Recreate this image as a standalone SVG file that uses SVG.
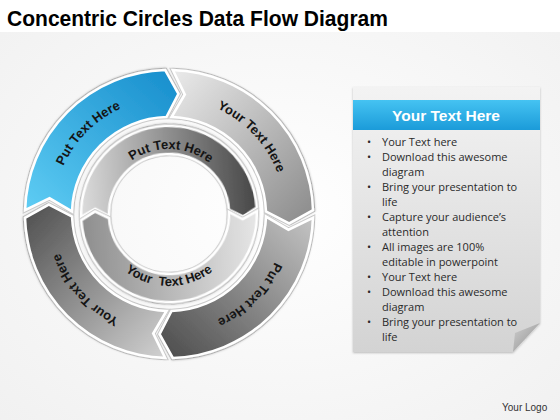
<svg xmlns="http://www.w3.org/2000/svg" xmlns:xlink="http://www.w3.org/1999/xlink" width="560" height="420" viewBox="0 0 560 420">
<style>
.seg{stroke:#ffffff;stroke-width:2.6;stroke-linejoin:miter}
.edge{fill:none;stroke:#cdcdcd;stroke-width:4.6;stroke-linejoin:miter}
.rt{font-family:"Liberation Sans",Arial,sans-serif;font-weight:bold;font-size:13px;fill:#151515}
.bl{font-family:"Open Sans","Liberation Sans",sans-serif;font-size:11px;fill:#2a2a2a}
</style>
<defs>
<radialGradient id="bg" cx="0.5" cy="0.5" r="0.75">
<stop offset="0" stop-color="#ffffff"/><stop offset="1" stop-color="#f0f0f0"/>
</radialGradient>
<linearGradient id="gBlue" x1="1" y1="0" x2="0" y2="1">
<stop offset="0" stop-color="#5fcdf4"/><stop offset="1" stop-color="#168dcc"/>
</linearGradient>
<linearGradient id="gTR" x1="1" y1="0" x2="0" y2="1">
<stop offset="0" stop-color="#ebebeb"/><stop offset="1" stop-color="#8a8a8a"/>
</linearGradient>
<linearGradient id="gBR" x1="1" y1="0" x2="0" y2="1">
<stop offset="0" stop-color="#c4c4c4"/><stop offset="1" stop-color="#4a4a4a"/>
</linearGradient>
<linearGradient id="gBL" x1="1" y1="0" x2="0" y2="1">
<stop offset="0" stop-color="#d2d2d2"/><stop offset="1" stop-color="#4e4e4e"/>
</linearGradient>
<linearGradient id="gIT" x1="1" y1="0" x2="0" y2="0">
<stop offset="0" stop-color="#dcdcdc"/><stop offset="1" stop-color="#474747"/>
</linearGradient>
<linearGradient id="gIB" x1="1" y1="0" x2="0" y2="0">
<stop offset="0" stop-color="#e6e6e6"/><stop offset="1" stop-color="#8e8e8e"/>
</linearGradient>
<linearGradient id="gPaper" x1="0" y1="0" x2="0" y2="1">
<stop offset="0" stop-color="#f3f3f3"/><stop offset="1" stop-color="#d3d3d3"/>
</linearGradient>
<linearGradient id="gHead" x1="0" y1="0" x2="0" y2="1">
<stop offset="0" stop-color="#45c3f2"/><stop offset="1" stop-color="#1b9bd9"/>
</linearGradient>
<linearGradient id="gCurl" x1="0" y1="0" x2="1" y2="1">
<stop offset="0" stop-color="#cfcfcf"/><stop offset="1" stop-color="#8f8f8f"/>
</linearGradient>
<filter id="sh" x="-20%" y="-20%" width="140%" height="140%">
<feDropShadow dx="0" dy="1" stdDeviation="1.2" flood-color="#000" flood-opacity="0.25"/>
</filter>
<path id="outerSeg" d="M 143.95 3.77 A 144 144 0 0 1 3.77 143.95 L -9.45 120.13 L 2.54 96.97 A 97 97 0 0 0 96.97 2.54 L 119.47 15.73 Z"/>
<path id="innerSeg" d="M 87.99 1.54 A 88 88 0 0 1 -87.99 1.54 L -73.72 -6.45 L -59.99 1.05 A 60 60 0 0 0 59.99 1.05 L 73.45 9.02 Z"/>
<path id="pOuter" d="M 53 214 A 116 116 0 1 1 285 214 A 116 116 0 1 1 53 214"/>
<path id="pInTop" d="M 104 214 A 65 65 0 0 1 234 214"/>
<path id="pInBot" d="M 97 214 A 72 72 0 0 0 241 214"/>
</defs>

<rect x="0" y="0" width="560" height="420" fill="url(#bg)"/>
<rect x="0" y="0" width="560" height="32" fill="#ffffff"/>

<g id="title">
<text x="7" y="26" font-family="'Liberation Sans',Arial,sans-serif" font-weight="bold" font-size="22" fill="#000" textLength="381" lengthAdjust="spacingAndGlyphs">Concentric Circles Data Flow Diagram</text>
</g>

<g id="seg-blue" transform="translate(169 214) rotate(180)">
<use href="#outerSeg" class="edge"/>
<use href="#outerSeg" class="seg" fill="url(#gBlue)" filter="url(#sh)"/>
</g>
<g id="seg-topright" transform="translate(169 214) rotate(270)">
<use href="#outerSeg" class="edge"/>
<use href="#outerSeg" class="seg" fill="url(#gTR)" filter="url(#sh)"/>
</g>
<g id="seg-bottomright" transform="translate(169 214)">
<use href="#outerSeg" class="edge"/>
<use href="#outerSeg" class="seg" fill="url(#gBR)" filter="url(#sh)"/>
</g>
<g id="seg-bottomleft" transform="translate(169 214) rotate(90)">
<use href="#outerSeg" class="edge"/>
<use href="#outerSeg" class="seg" fill="url(#gBL)" filter="url(#sh)"/>
</g>
<g id="inner-top" transform="translate(169 214) rotate(177)">
<use href="#innerSeg" class="edge"/>
<use href="#innerSeg" class="seg" fill="url(#gIT)" filter="url(#sh)"/>
</g>
<g id="inner-bottom" transform="translate(169 214) rotate(-3)">
<use href="#innerSeg" class="edge"/>
<use href="#innerSeg" class="seg" fill="url(#gIB)" filter="url(#sh)"/>
</g>
<g id="ring-labels">
<text class="rt"><textPath href="#pOuter" startOffset="12.5%" text-anchor="middle">Put Text Here</textPath></text>
<text class="rt"><textPath href="#pOuter" startOffset="38%" text-anchor="middle">Your Text Here</textPath></text>
<text class="rt"><textPath href="#pOuter" startOffset="62.5%" text-anchor="middle">Put Text Here</textPath></text>
<text class="rt"><textPath href="#pOuter" startOffset="88.3%" text-anchor="middle">Your Text Here</textPath></text>
<text class="rt"><textPath href="#pInTop" startOffset="51%" text-anchor="middle">Put Text Here</textPath></text>
<text class="rt" xml:space="preserve" style="white-space:pre"><textPath href="#pInBot" startOffset="50%" text-anchor="middle">Your  Text Here</textPath></text>
</g>
<g id="connectors"/>

<g id="panel">
<path d="M353 87 H540 V323 L513 352 H353 Z" fill="url(#gPaper)" filter="url(#sh)"/>
<path d="M540 323 L515 333 L513 352 Z" fill="url(#gCurl)"/>
<rect x="353" y="100" width="187" height="30" fill="url(#gHead)"/>
<text x="446" y="121" text-anchor="middle" font-family="'Liberation Sans',Arial,sans-serif" font-weight="bold" font-size="15.5" fill="#ffffff">Your Text Here</text>
<g class="bl">
<text x="367" y="146">•</text><text x="382" y="146">Your Text here</text>
<text x="367" y="161">•</text><text x="382" y="161">Download this awesome</text>
<text x="382" y="176">diagram</text>
<text x="367" y="191">•</text><text x="382" y="191">Bring your presentation to</text>
<text x="382" y="206">life</text>
<text x="367" y="221">•</text><text x="382" y="221">Capture your audience’s</text>
<text x="382" y="236">attention</text>
<text x="367" y="251">•</text><text x="382" y="251">All images are 100%</text>
<text x="382" y="266">editable in powerpoint</text>
<text x="367" y="281">•</text><text x="382" y="281">Your Text here</text>
<text x="367" y="296">•</text><text x="382" y="296">Download this awesome</text>
<text x="382" y="311">diagram</text>
<text x="367" y="326">•</text><text x="382" y="326">Bring your presentation to</text>
<text x="382" y="341">life</text>
</g>
</g>

<g id="logo">
<text x="502" y="411" font-family="'Liberation Sans',Arial,sans-serif" font-size="10" fill="#333">Your Logo</text>
</g>
</svg>
